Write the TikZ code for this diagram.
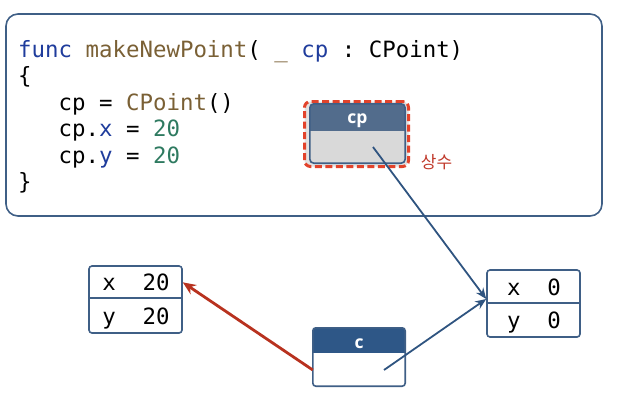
\documentclass[tikz,border=0pt]{standalone}
\usepackage{fontspec}
\setmonofont{DejaVu Sans Mono}
\setsansfont{Open Sans}
\newfontfamily\kr{Noto Sans CJK KR}
\usetikzlibrary{arrows.meta,calc}
\definecolor{frame}{HTML}{3F5F86}
\definecolor{kwblue}{HTML}{1F3C9C}
\definecolor{fnbrown}{HTML}{7A6035}
\definecolor{numgreen}{HTML}{2E7A60}
\definecolor{cphdr}{HTML}{526C8C}
\definecolor{chdr}{HTML}{2E5787}
\definecolor{cpbody}{HTML}{D9D9D9}
\definecolor{cpouter}{HTML}{E2E2E2}
\definecolor{dashred}{HTML}{E2432B}
\definecolor{arrred}{HTML}{B8321F}
\definecolor{lnblue}{HTML}{2F5480}
\definecolor{krred}{HTML}{C0392B}
\begin{document}
\begin{tikzpicture}[x=1pt,y=-1pt,
  codetxt/.style={anchor=base west,inner sep=0pt,font=\fontsize{22.4}{26}\selectfont\ttfamily},
  rowtxt/.style={anchor=base,inner sep=0pt,font=\fontsize{22.4}{26}\selectfont\ttfamily},
  hdrtxt/.style={anchor=base,inner sep=0pt,text=white,font=\fontsize{17.5}{20}\selectfont\sffamily\bfseries},
  bigbox/.style={draw=frame,line width=1.6pt,rounded corners=12pt,inner sep=0pt},
  valbox/.style={draw=frame,line width=1.6pt,rounded corners=3pt,inner sep=0pt,minimum width=93pt,fill=white},
  bluearr/.style={draw=lnblue,line width=1.8pt,-{Stealth[length=11pt,width=9pt]}},
  redarr/.style={draw=arrred,line width=2.8pt,-{Stealth[length=13pt,width=11pt]}}
]
\useasboundingbox (0,0) rectangle (618,402);

% function frame
\node[bigbox,minimum width=596pt,minimum height=202pt] (func) at (304,115) {};

% code
\node[codetxt] (l1) at (18,57) {\textcolor{kwblue}{func} \textcolor{fnbrown}{makeNewPoint}( \textcolor{fnbrown}{\_} \textcolor{kwblue}{cp} : CPoint)};
\node[codetxt] (l2) at (18,83.5) {\{};
\node[codetxt] (l3) at (18,110) {\ \ \ cp = \textcolor{fnbrown}{CPoint}()};
\node[codetxt] (l4) at (18,136.5) {\ \ \ cp.\textcolor{kwblue}{x} = \textcolor{numgreen}{20}};
\node[codetxt] (l5) at (18,163) {\ \ \ cp.\textcolor{kwblue}{y} = \textcolor{numgreen}{20}};
\node[codetxt] (l6) at (18,189.5) {\}};

% cp constant box
\node[draw=dashred,fill=cpouter,line width=3pt,dash pattern=on 7pt off 3.5pt,rounded corners=6pt,
      minimum width=104pt,minimum height=65pt,inner sep=0pt] (cpout) at (356.5,134) {};
\node[fill=cpbody,rounded corners=4pt,minimum width=95pt,minimum height=59pt,inner sep=0pt] (cpin) at (357.5,133.5) {};
\fill[cphdr,rounded corners=4pt] (cpin.north west) rectangle ($(cpin.north east)+(0,27)$);
\fill[cphdr] ($(cpin.north west)+(0,14)$) rectangle ($(cpin.north east)+(0,27)$);
\draw[frame,line width=1.6pt,rounded corners=4pt] (cpin.north west) rectangle (cpin.south east);
\node[hdrtxt] (cplabel) at ($(cpin.north)+(0,19.5)$) {cp};
\node[inner sep=0pt,text=krred,font=\fontsize{17}{20}\selectfont\kr] (sangsu) at (436.5,162.5) {상수};

% value boxes
\node[valbox,minimum height=67pt] (xy20) at (135.5,299.5) {};
\draw[frame,line width=1.6pt] ($(xy20.north west)+(0,33)$) -- ($(xy20.north east)+(0,33)$);
\node[rowtxt] (x20) at (136,290.5) {x\ \ 20};
\node[rowtxt] (y20) at (136,324) {y\ \ 20};

\node[valbox,minimum height=67pt] (xy0) at (533.5,303.5) {};
\draw[frame,line width=1.6pt] ($(xy0.north west)+(0,34)$) -- ($(xy0.north east)+(0,34)$);
\node[rowtxt] (x0) at (534,295) {x\ \ 0};
\node[rowtxt] (y0) at (534,328) {y\ \ 0};

% c variable box
\node[fill=white,rounded corners=3pt,minimum width=92pt,minimum height=58pt,inner sep=0pt] (cbox) at (359,357) {};
\fill[chdr,rounded corners=3pt] (cbox.north west) rectangle ($(cbox.north east)+(0,25)$);
\fill[chdr] ($(cbox.north west)+(0,12)$) rectangle ($(cbox.north east)+(0,25)$);
\draw[frame,line width=1.6pt,rounded corners=3pt] (cbox.north west) rectangle (cbox.south east);
\node[hdrtxt] (clabel) at ($(cbox.north)+(0,20.5)$) {c};

% connectors
\coordinate (cpref) at (373,147);
\coordinate (cref) at (384,370);
\coordinate (xy0in) at ($(xy0.west)+(0,-4.5)$);
\draw[bluearr] (cpref) -- (xy0in);
\draw[bluearr] (cref) -- (xy0in);
\draw[redarr] (cbox.west |- cref) -- (xy20.east |- x20.center);
\end{tikzpicture}
\end{document}
